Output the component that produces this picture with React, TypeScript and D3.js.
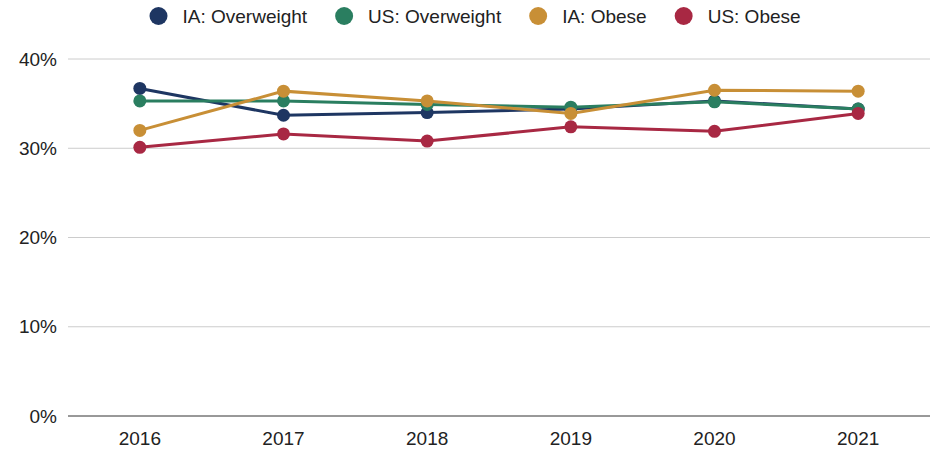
import { useEffect, useRef } from 'react';
import * as d3 from 'd3';

const years = ['2016', '2017', '2018', '2019', '2020', '2021'];
const iaOverweight = [36.7, 33.7, 34.0, 34.4, 35.3, 34.4];
const usOverweight = [35.3, 35.3, 34.9, 34.6, 35.2, 34.4];
const iaObese = [32.0, 36.4, 35.3, 33.9, 36.5, 36.4];
const usObese = [30.1, 31.6, 30.8, 32.4, 31.9, 33.9];
const yTicks = [0, 10, 20, 30, 40];

interface Series {
  name: string;
  color: string;
  values: number[];
}

const series: Series[] = [
  { name: 'IA: Overweight', color: '#1e3662', values: iaOverweight },
  { name: 'US: Overweight', color: '#2a7e60', values: usOverweight },
  { name: 'IA: Obese', color: '#c88f36', values: iaObese },
  { name: 'US: Obese', color: '#a82843', values: usObese },
];

export default function App() {
  const ref = useRef<SVGSVGElement>(null);

  useEffect(() => {
    if (!ref.current) return;
    const svg = d3.select(ref.current);
    svg.selectAll('*').remove();

    const width = 942;
    const height = 449;
    const margin = { top: 59, right: 12, bottom: 33, left: 68 };
    const font = '"Liberation Sans", Arial, sans-serif';

    const x = d3.scalePoint<string>()
      .domain(years)
      .range([margin.left, width - margin.right])
      .padding(0.5);

    const y = d3.scaleLinear()
      .domain([0, 40])
      .range([height - margin.bottom, margin.top]);

    // gridlines
    svg.append('g')
      .selectAll('line')
      .data(yTicks.filter(t => t > 0))
      .enter()
      .append('line')
      .attr('x1', margin.left)
      .attr('x2', width - margin.right)
      .attr('y1', d => y(d))
      .attr('y2', d => y(d))
      .attr('stroke', '#cccccc')
      .attr('stroke-width', 1);

    // baseline
    svg.append('line')
      .attr('x1', margin.left)
      .attr('x2', width - margin.right)
      .attr('y1', y(0))
      .attr('y2', y(0))
      .attr('stroke', '#333333')
      .attr('stroke-width', 1);

    // y labels
    svg.append('g')
      .selectAll('text')
      .data(yTicks)
      .enter()
      .append('text')
      .attr('x', 57)
      .attr('y', d => y(d))
      .attr('dy', '0.35em')
      .attr('text-anchor', 'end')
      .style('font-family', font)
      .style('font-size', '19px')
      .style('fill', '#222')
      .text(d => `${d}%`);

    // x labels
    svg.append('g')
      .selectAll('text')
      .data(years)
      .enter()
      .append('text')
      .attr('x', d => x(d) as number)
      .attr('y', 445)
      .attr('text-anchor', 'middle')
      .style('font-family', font)
      .style('font-size', '19px')
      .style('fill', '#222')
      .text(d => d);

    const line = d3.line<number>()
      .x((_, i) => x(years[i]) as number)
      .y(d => y(d));

    series.forEach(s => {
      const g = svg.append('g');
      g.append('path')
        .datum(s.values)
        .attr('fill', 'none')
        .attr('stroke', s.color)
        .attr('stroke-width', 3)
        .attr('d', line);
      g.selectAll('circle')
        .data(s.values)
        .enter()
        .append('circle')
        .attr('cx', (_, i) => x(years[i]) as number)
        .attr('cy', d => y(d))
        .attr('r', 6.5)
        .attr('fill', s.color);
    });

    // legend
    const legend = svg.append('g').attr('transform', 'translate(0,16)');
    let lx = 158.5;
    series.forEach(s => {
      const item = legend.append('g').attr('transform', `translate(${lx},0)`);
      item.append('circle')
        .attr('cx', 0)
        .attr('cy', 0)
        .attr('r', 9)
        .attr('fill', s.color);
      const t = item.append('text')
        .attr('x', 24)
        .attr('y', 0)
        .attr('dy', '0.35em')
        .style('font-family', font)
        .style('font-size', '19px')
        .style('fill', '#222')
        .text(s.name);
      const w = (t.node() as SVGTextElement).getComputedTextLength();
      lx += 24 + w + 37;
    });
  }, []);

  return (
    <svg
      ref={ref}
      width={942}
      height={449}
      style={{ position: 'absolute', left: 0, top: 0, background: '#fff' }}
    />
  );
}
